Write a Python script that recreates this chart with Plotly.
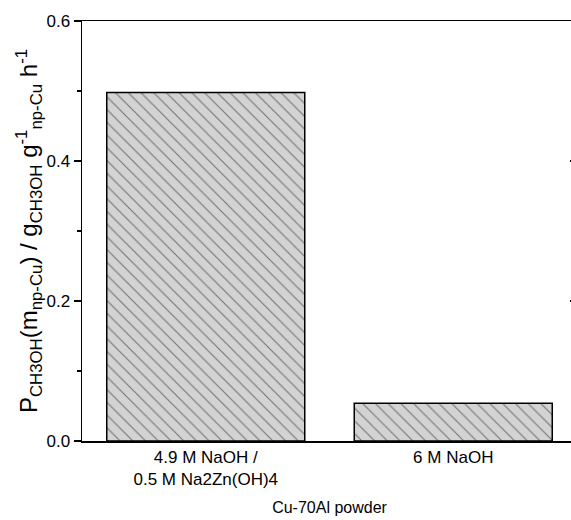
import plotly.graph_objects as go

categories = ["4.9 M NaOH /<br>0.5 M Na2Zn(OH)4", "6 M NaOH"]
values = [0.498, 0.054]
y_tickvals = [0.0, 0.2, 0.4, 0.6]
y_ticktext = ["0.0", "0.2", "0.4", "0.6"]
y_minor = [0.1, 0.3, 0.5]

FONT = "Liberation Sans, Arial, sans-serif"

fig = go.Figure()
fig.add_trace(go.Bar(
    x=[0, 1],
    y=values,
    width=0.8,
    marker=dict(
        color="#d3d3d3",
        line=dict(color="black", width=1.5),
        pattern=dict(shape="\\", fgcolor="#111111", size=9, solidity=0.12, fillmode="overlay"),
    ),
    showlegend=False,
    hoverinfo="skip",
))

fig.update_layout(
    width=578, height=520,
    margin=dict(l=82, r=1, t=21, b=79, autoexpand=False),
    plot_bgcolor="white", paper_bgcolor="white",
    font=dict(family=FONT, size=17, color="black"),
    yaxis2=dict(
        overlaying="y", side="right", range=[0, 0.6],
        tickmode="array", tickvals=y_tickvals, showticklabels=False,
        ticks="inside", ticklen=7, tickwidth=1.5, tickcolor="black",
        showline=True, linecolor="black", linewidth=1.5,
        showgrid=False, zeroline=False, automargin=False,
    ),
)
fig.add_trace(go.Scatter(x=[None], y=[None], yaxis="y2", showlegend=False, hoverinfo="skip"))

fig.update_xaxes(
    range=[-0.5, 1.5],
    tickmode="array", tickvals=[0, 1], ticktext=categories,
    ticks="", showgrid=False, zeroline=False,
    showline=True, linecolor="black", linewidth=1.5, mirror=True,
    tickfont=dict(size=17), automargin=False,
    title=dict(text="Cu-70Al powder", font=dict(size=16), standoff=14),
)
fig.update_yaxes(
    selector=dict(overlaying=None),
    range=[0, 0.6],
    tickmode="array", tickvals=y_tickvals, ticktext=y_ticktext,
    ticks="outside", ticklen=7, tickwidth=1.5, tickcolor="black",
    minor=dict(tickmode="array", tickvals=y_minor, ticks="outside", ticklen=4, tickwidth=1.5, tickcolor="black"),
    showgrid=False, zeroline=False,
    showline=True, linecolor="black", linewidth=1.5, mirror=False,
    tickfont=dict(size=17), automargin=False,
    title=dict(
        text="P<sub>CH3OH</sub>(m<sub>np-Cu</sub>) / g<sub>CH3OH</sub> g<sup>-1</sup><sub>np-Cu</sub> h<sup>-1</sup>",
        font=dict(size=24), standoff=2,
    ),
)

fig.write_html(
    "out.html",
    config={"displayModeBar": False, "staticPlot": True},
    post_script="document.body.style.margin='0';document.body.style.overflow='hidden';",
)
